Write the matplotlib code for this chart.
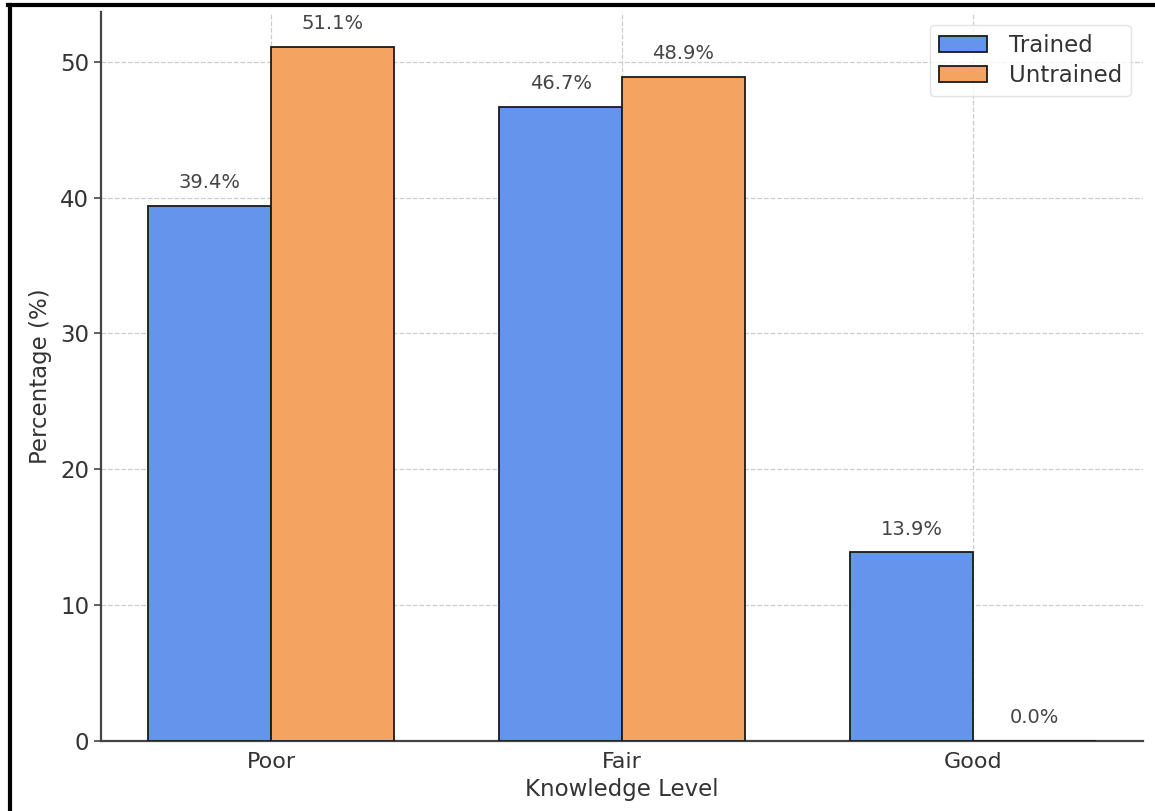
import numpy as np
import matplotlib.pyplot as plt
from matplotlib.lines import Line2D

# Knowledge level by group (%)
levels = ['Poor', 'Fair', 'Good']
trained = [39.4, 46.7, 13.9]
untrained = [51.1, 48.9, 0.0]

x = np.arange(len(levels))
width = 0.35

fig = plt.figure(figsize=(11.55, 8.11), dpi=100)
ax = fig.add_axes([0.0874, 0.0863, 0.9022, 0.8989])

ax.grid(True, linestyle='--', color='#cccccc', linewidth=0.9, zorder=0)
ax.set_axisbelow(True)

bars1 = ax.bar(x - width / 2, trained, width, label='Trained',
               color='#6495ED', edgecolor='#1a1a1a', linewidth=1.3, zorder=3)
bars2 = ax.bar(x + width / 2, untrained, width, label='Untrained',
               color='#F4A460', edgecolor='#1a1a1a', linewidth=1.3, zorder=3)

# value labels above each bar
for bars in (bars1, bars2):
    for b in bars:
        h = b.get_height()
        ax.text(b.get_x() + b.get_width() / 2, h + 1, f'{h:.1f}%',
                ha='center', va='bottom', fontsize=14, color='#444444')

ax.set_xticks(x)
ax.set_xticklabels(levels)
ax.set_xlabel('Knowledge Level', fontsize=16.5, color='#333333', labelpad=4)
ax.set_ylabel('Percentage (%)', fontsize=16.5, color='#333333', labelpad=6)
ax.tick_params(axis='x', length=0, labelsize=16, labelcolor='#333333', pad=8)
ax.tick_params(axis='y', length=5, width=1.2, color='#444444',
               labelsize=16.5, labelcolor='#333333')

for side in ('top', 'right'):
    ax.spines[side].set_visible(False)
for side in ('left', 'bottom'):
    ax.spines[side].set_color('#444444')
    ax.spines[side].set_linewidth(1.6)

leg = ax.legend(loc='upper right', fontsize=16.5, frameon=True,
                fancybox=True, borderpad=0.4, labelspacing=0.3,
                handlelength=2.1, handletextpad=0.95,
                bbox_to_anchor=(0.9995, 0.9985))
leg.get_frame().set_edgecolor('#dddddd')
for t in leg.get_texts():
    t.set_color('#333333')

# page frame edges
fig.add_artist(Line2D([9.5 / 1155, 9.5 / 1155], [0, 1 - 5 / 811],
                      color='black', linewidth=3, transform=fig.transFigure))
fig.add_artist(Line2D([8 / 1155, 1], [1 - 5 / 811, 1 - 5 / 811],
                      color='black', linewidth=3, transform=fig.transFigure))

fig.savefig('out.png', dpi=100)
